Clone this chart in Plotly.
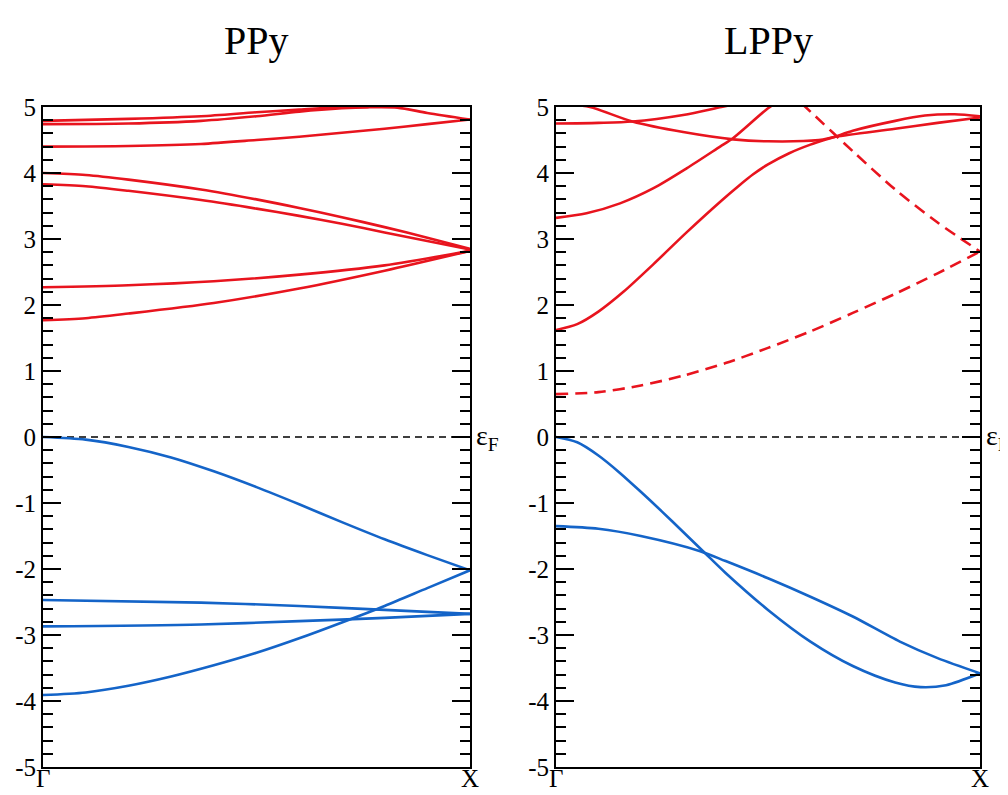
import plotly.graph_objects as go

# ---------------- data ----------------
titles = ["PPy", "LPPy"]
k_ticks = [0, 1]
k_labels = ["Γ", "X"]
e_ticks = [-5, -4, -3, -2, -1, 0, 1, 2, 3, 4, 5]
e_labels = ["-5", "-4", "-3", "-2", "-1", "0", "1", "2", "3", "4", "5"]

# PPy conduction (red) bands: x positions along Γ-X, energies (eV)
ppy_c1_x = [0, 0.2, 0.37, 0.5, 0.6, 0.7, 0.8, 1.0]
ppy_c1_y = [4.79, 4.82, 4.86, 4.92, 4.96, 5.0, 5.02, 5.05]
ppy_c2_x = [0, 0.2, 0.37, 0.5, 0.6, 0.7, 0.76, 0.83, 0.9, 1.0]
ppy_c2_y = [4.74, 4.75, 4.79, 4.86, 4.93, 4.98, 4.995, 4.99, 4.91, 4.81]
ppy_c3_x = [0, 0.2, 0.37, 0.5, 0.6, 0.7, 0.8, 0.9, 1.0]
ppy_c3_y = [4.40, 4.41, 4.44, 4.50, 4.55, 4.61, 4.67, 4.74, 4.81]
ppy_c4_x = [0, 0.1, 0.2, 0.37, 0.5, 0.6, 0.7, 0.8, 0.9, 1.0]
ppy_c4_y = [4.0, 3.97, 3.9, 3.75, 3.6, 3.47, 3.33, 3.18, 3.02, 2.85]
ppy_c5_x = [0, 0.1, 0.2, 0.37, 0.5, 0.6, 0.7, 0.8, 0.9, 1.0]
ppy_c5_y = [3.83, 3.8, 3.73, 3.59, 3.46, 3.35, 3.23, 3.1, 2.97, 2.84]
ppy_c6_x = [0, 0.2, 0.4, 0.6, 0.8, 1.0]
ppy_c6_y = [2.27, 2.3, 2.36, 2.46, 2.6, 2.82]
ppy_c7_x = [0, 0.1, 0.2, 0.4, 0.6, 0.8, 1.0]
ppy_c7_y = [1.77, 1.8, 1.87, 2.03, 2.25, 2.52, 2.82]

# PPy valence (blue) bands
ppy_v1_x = [0, 0.1, 0.2, 0.3, 0.4, 0.5, 0.6, 0.7, 0.8, 0.9, 1.0]
ppy_v1_y = [0, -0.04, -0.15, -0.31, -0.52, -0.76, -1.02, -1.29, -1.55, -1.79, -2.02]
ppy_v2_x = [0, 0.37, 0.6, 0.8, 1.0]
ppy_v2_y = [-2.47, -2.51, -2.56, -2.62, -2.68]
ppy_v3_x = [0, 0.37, 0.6, 0.8, 1.0]
ppy_v3_y = [-2.87, -2.84, -2.79, -2.74, -2.68]
ppy_v4_x = [0, 0.1, 0.2, 0.3, 0.4, 0.5, 0.6, 0.7, 0.8, 0.9, 1.0]
ppy_v4_y = [-3.91, -3.87, -3.77, -3.63, -3.46, -3.27, -3.05, -2.81, -2.56, -2.29, -2.02]

# LPPy conduction (red) bands
lppy_c1_x = [0, 0.1, 0.18, 0.3, 0.39, 0.45]
lppy_c1_y = [4.75, 4.76, 4.78, 4.88, 5.0, 5.08]
lppy_c2_x = [0.03, 0.08, 0.18, 0.3, 0.418, 0.5, 0.62, 0.66, 0.8, 0.9, 1.0]
lppy_c2_y = [5.04, 5.0, 4.78, 4.62, 4.51, 4.48, 4.50, 4.55, 4.67, 4.76, 4.84]
lppy_c3_x = [0, 0.072, 0.151, 0.23, 0.308, 0.387, 0.418, 0.5, 0.54]
lppy_c3_y = [3.32, 3.39, 3.54, 3.77, 4.07, 4.40, 4.53, 4.98, 5.15]
lppy_c4_x = [0, 0.05, 0.1, 0.159, 0.23, 0.308, 0.39, 0.43, 0.465, 0.5, 0.55, 0.6, 0.658, 0.7, 0.8, 0.87, 0.94, 1.0]
lppy_c4_y = [1.62, 1.71, 1.90, 2.20, 2.62, 3.10, 3.58, 3.80, 3.98, 4.13, 4.30, 4.43, 4.55, 4.64, 4.79, 4.87, 4.89, 4.86]
lppy_d1_x = [0, 0.1, 0.2, 0.3, 0.4, 0.5, 0.6, 0.7, 0.8, 0.9, 1.0]
lppy_d1_y = [0.65, 0.68, 0.78, 0.93, 1.12, 1.35, 1.6, 1.88, 2.17, 2.48, 2.81]
lppy_d2_x = [0.58, 0.6, 0.7, 0.8, 0.9, 1.0]
lppy_d2_y = [5.05, 4.93, 4.33, 3.75, 3.25, 2.81]

# LPPy valence (blue) bands
lppy_v1_x = [0, 0.05, 0.1, 0.15, 0.2, 0.25, 0.3, 0.35, 0.4, 0.5, 0.6, 0.7, 0.8, 0.86, 0.92, 1.0]
lppy_v1_y = [0, -0.08, -0.28, -0.54, -0.83, -1.13, -1.44, -1.75, -2.06, -2.62, -3.10, -3.47, -3.72, -3.79, -3.76, -3.58]
lppy_v2_x = [0, 0.1, 0.2, 0.34, 0.4, 0.5, 0.6, 0.7, 0.811, 0.9, 1.0]
lppy_v2_y = [-1.35, -1.39, -1.5, -1.73, -1.88, -2.14, -2.42, -2.72, -3.1, -3.35, -3.58]

# ---------------- styling ----------------
RED = "#e8141e"
BLUE = "#1464c8"
SERIF = "Liberation Serif"

fig = go.Figure()

def add(xs, ys, color, axis, dash="solid"):
    fig.add_trace(go.Scatter(
        x=xs, y=ys, mode="lines",
        line=dict(color=color, width=2.6, shape="spline", smoothing=0.8, dash=dash),
        xaxis="x" if axis == 1 else "x2", yaxis="y" if axis == 1 else "y2",
        showlegend=False, hoverinfo="skip"))

# Fermi level dashed lines
for ax in (1, 2):
    fig.add_trace(go.Scatter(x=[0, 1], y=[0, 0], mode="lines",
                             line=dict(color="black", width=1.6, dash="7px,5px"),
                             xaxis="x" if ax == 1 else "x2", yaxis="y" if ax == 1 else "y2",
                             showlegend=False, hoverinfo="skip"))

for xs, ys in [(ppy_c1_x, ppy_c1_y), (ppy_c2_x, ppy_c2_y), (ppy_c3_x, ppy_c3_y),
               (ppy_c4_x, ppy_c4_y), (ppy_c5_x, ppy_c5_y), (ppy_c6_x, ppy_c6_y), (ppy_c7_x, ppy_c7_y)]:
    add(xs, ys, RED, 1)
for xs, ys in [(ppy_v1_x, ppy_v1_y), (ppy_v2_x, ppy_v2_y), (ppy_v3_x, ppy_v3_y), (ppy_v4_x, ppy_v4_y)]:
    add(xs, ys, BLUE, 1)

for xs, ys in [(lppy_c1_x, lppy_c1_y), (lppy_c2_x, lppy_c2_y), (lppy_c3_x, lppy_c3_y), (lppy_c4_x, lppy_c4_y)]:
    add(xs, ys, RED, 2)
for xs, ys in [(lppy_d1_x, lppy_d1_y), (lppy_d2_x, lppy_d2_y)]:
    add(xs, ys, RED, 2, dash="12px,7px")
for xs, ys in [(lppy_v1_x, lppy_v1_y), (lppy_v2_x, lppy_v2_y)]:
    add(xs, ys, BLUE, 2)

xax = dict(range=[0, 1], showgrid=False, zeroline=False, showline=True, linecolor="black", linewidth=2,
           mirror=True, ticks="", showticklabels=False, automargin=False)
yax = dict(range=[-5, 5], showgrid=False, zeroline=False, showline=True, linecolor="black", linewidth=2,
           mirror="ticks", ticks="inside", ticklen=18, tickwidth=2, tickcolor="black",
           tickvals=e_ticks, ticktext=e_labels, automargin=False,
           tickfont=dict(family=SERIF, size=25, color="black"),
           minor=dict(dtick=0.2, ticks="inside", ticklen=10, tickwidth=2, tickcolor="black"))

# the page body adds an 8px offset, so margins are reduced by 8px on the left and top
fig.update_layout(
    width=1008, height=795,
    margin=dict(l=35, r=36, t=99, b=36),
    paper_bgcolor="white", plot_bgcolor="white",
    xaxis=dict(domain=[0, 0.4557], anchor="y", **xax),
    yaxis=dict(anchor="x", **yax),
    xaxis2=dict(domain=[0.5475, 1], anchor="y2", **xax),
    yaxis2=dict(anchor="x2", **yax),
)

# k-point labels below each panel (drawn as annotations so they sit tight under the axis)
for xr, yr in (("x", "y domain"), ("x2", "y2 domain")):
    for kv, kl in zip(k_ticks, k_labels):
        fig.add_annotation(text=kl, xref=xr, yref=yr, x=kv, y=0, yanchor="top", yshift=3,
                           borderpad=0, showarrow=False, font=dict(family=SERIF, size=25, color="black"))

# titles
for xr, t in (("x domain", titles[0]), ("x2 domain", titles[1])):
    fig.add_annotation(text=t, xref=xr, yref="paper", x=0.5, y=1.0, yshift=67,
                       showarrow=False, font=dict(family=SERIF, size=40, color="black"),
                       yanchor="middle")

# Fermi level labels
for xr, yr in (("x domain", "y"), ("x2 domain", "y2")):
    fig.add_annotation(text="ε<sub>F</sub>", xref=xr, yref=yr, x=1.0, y=0, xshift=4, xanchor="left",
                       yanchor="middle", showarrow=False, font=dict(family=SERIF, size=28, color="black"))

fig.write_html("out.html")
